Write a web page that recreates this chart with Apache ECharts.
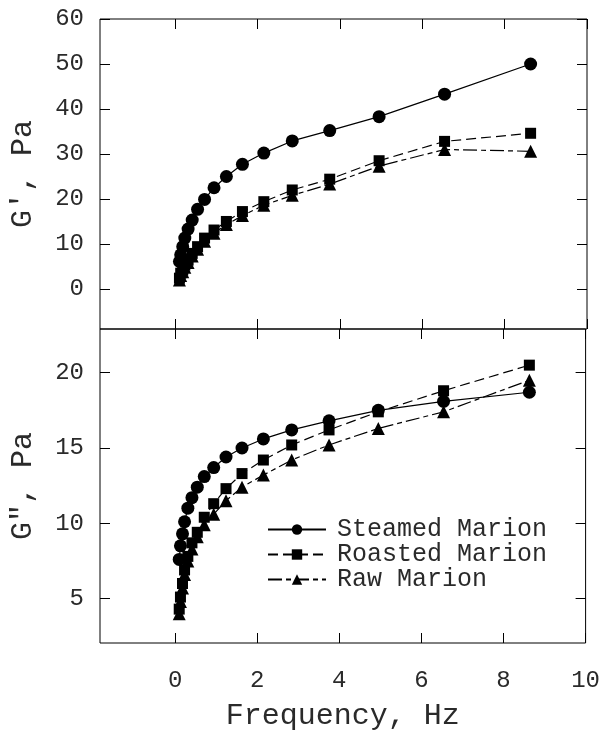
<!DOCTYPE html>
<html><head><meta charset="utf-8">
<script src="https://cdn.jsdelivr.net/npm/echarts@6/dist/echarts.min.js"></script>
<style>html,body{margin:0;padding:0;background:#fff}#c{width:603px;height:732px}</style>
</head><body><div id="c"></div>
<script>
const frequency = [0.10,0.13,0.18,0.23,0.31,0.41,0.54,0.71,0.94,1.24,1.63,2.15,2.84,3.75,4.95,6.54,8.63];
const gPrimeSteamed = [6.1,7.6,9.4,11.3,13.3,15.3,17.7,19.9,22.5,25.0,27.7,30.2,32.9,35.2,38.3,43.3,50.0];
const gPrimeRoasted = [2.4,3.5,4.2,5.3,6.4,7.9,9.4,11.3,13.1,15.0,17.2,19.4,22.0,24.4,28.5,32.8,34.6];
const gPrimeRaw = [2.0,3.0,3.8,4.8,5.9,7.3,8.8,10.6,12.4,14.3,16.3,18.6,20.8,23.3,27.3,31.0,30.6];
const gDoubleSteamed = [7.6,8.5,9.3,10.1,11.0,11.7,12.4,13.1,13.7,14.4,15.0,15.6,16.2,16.8,17.5,18.1,18.7];
const gDoubleRoasted = [4.3,5.1,6.0,6.9,7.8,8.7,9.4,10.4,11.3,12.3,13.3,14.2,15.2,16.2,17.4,18.8,20.5];
const gDoubleRaw = [4.0,4.8,5.7,6.6,7.5,8.3,9.1,9.9,10.6,11.5,12.4,13.2,14.2,15.2,16.3,17.4,19.5];
const xTicks = [0,2,4,6,8,10];
const topTicks = [0,10,20,30,40,50,60];
const bottomTicks = [5,10,15,20];
const seriesNames = ['Steamed Marion','Roasted Marion','Raw Marion'];

const FONT = "'Liberation Mono','DejaVu Sans Mono',monospace";
const INK = '#2a2a2a';
const chart = echarts.init(document.getElementById('c'), null, {renderer:'canvas'});

function tickAxis(extra, ticks, showLabel, margin) {
  return Object.assign({
    type: 'value',
    axisLine: {show: false, onZero: false},
    splitLine: {show: false},
    axisTick: {show: true, inside: true, length: 10, customValues: ticks, lineStyle: {color: '#000', width: 1}},
    axisLabel: showLabel
      ? {show: true, customValues: ticks, fontFamily: FONT, fontSize: 24, color: INK, margin: margin}
      : {show: false}
  }, extra);
}

const styles = [
  {symbol: 'circle', symbolSize: 13, type: 'solid'},
  {symbol: 'rect', symbolSize: 11, type: [10, 5]},
  {symbol: 'triangle', symbolSize: 13, type: [14, 4, 5, 4]}
];
function mk(name, idx, arr, axisIdx) {
  const s = styles[idx];
  return {
    name: name, type: 'line', xAxisIndex: axisIdx, yAxisIndex: axisIdx,
    data: frequency.map((f, i) => [f, arr[i]]),
    symbol: s.symbol, symbolSize: s.symbolSize, showSymbol: true,
    itemStyle: {color: '#000'},
    lineStyle: {color: '#000', width: 1.2, type: s.type},
    emphasis: {disabled: true}
  };
}

const option = {
  animation: false,
  backgroundColor: '#fff',
  grid: [
    {left: 97, right: 16, top: 19, height: 310, show: true, borderColor: '#000', borderWidth: 1},
    {left: 97, right: 16, top: 329, height: 319, show: true, borderColor: '#000', borderWidth: 1}
  ],
  xAxis: [
    tickAxis({gridIndex: 0, position: 'bottom', min: -1.83, max: 10}, xTicks, false),
    tickAxis({gridIndex: 0, position: 'top', min: -1.83, max: 10}, xTicks, false),
    tickAxis({gridIndex: 1, position: 'bottom', min: -1.83, max: 10,
      name: 'Frequency, Hz', nameLocation: 'middle', nameGap: 58,
      nameTextStyle: {fontFamily: FONT, fontSize: 30, color: INK}}, xTicks, true, 26),
    tickAxis({gridIndex: 1, position: 'top', min: -1.83, max: 10}, xTicks, false)
  ],
  yAxis: [
    tickAxis({gridIndex: 0, position: 'left', min: -8.9, max: 60,
      name: "G', Pa", nameLocation: 'middle', nameGap: 62, nameRotate: 90,
      nameTextStyle: {fontFamily: FONT, fontSize: 30, color: INK}}, topTicks, true, 16),
    tickAxis({gridIndex: 0, position: 'right', min: -8.9, max: 60}, topTicks, false),
    tickAxis({gridIndex: 1, position: 'left', min: 2.05, max: 22.9,
      name: 'G", Pa', nameLocation: 'middle', nameGap: 62, nameRotate: 90,
      nameTextStyle: {fontFamily: FONT, fontSize: 30, color: INK}}, bottomTicks, true, 16),
    tickAxis({gridIndex: 1, position: 'right', min: 2.05, max: 22.9}, bottomTicks, false)
  ],
  legend: {
    orient: 'vertical', left: 262, top: 512, itemWidth: 58, itemHeight: 13, itemGap: 0,
    data: seriesNames, selectedMode: false,
    textStyle: {fontFamily: FONT, fontSize: 25, color: INK, padding: [0, 0, 0, 6]}
  },
  series: [
    mk(seriesNames[0], 0, gPrimeSteamed, 0),
    mk(seriesNames[1], 1, gPrimeRoasted, 0),
    mk(seriesNames[2], 2, gPrimeRaw, 0),
    mk(seriesNames[0], 0, gDoubleSteamed, 2),
    mk(seriesNames[1], 1, gDoubleRoasted, 2),
    mk(seriesNames[2], 2, gDoubleRaw, 2)
  ]
};
chart.setOption(option);
</script></body></html>
